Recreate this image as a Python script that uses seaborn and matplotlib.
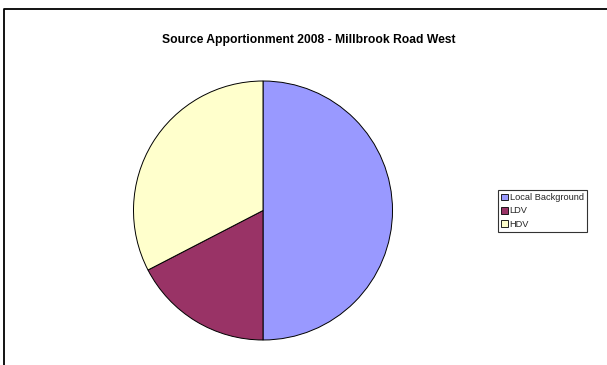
import matplotlib
matplotlib.use("Agg")
import matplotlib.pyplot as plt
from matplotlib.patches import Patch
from matplotlib.lines import Line2D
import seaborn as sns

categories = ["Local Background", "LDV", "HDV"]
values = [50.0, 17.4, 32.6]
colors = ["#9999FF", "#993366", "#FFFFCC"]
title = "Source Apportionment 2008 - Millbrook Road West"

sns.set_style("white")
plt.rcParams["font.family"] = ["Liberation Sans", "DejaVu Sans"]

W, H = 607, 365
fig = plt.figure(figsize=(W / 100, H / 100), dpi=100)
fig.patch.set_facecolor("white")

cx, cy, r = 263, 210.5, 129.5
ax = fig.add_axes([(cx - r) / W, (H - cy - r) / H, 2 * r / W, 2 * r / H])
ax.pie(values, colors=colors, startangle=90, counterclock=False,
       radius=1.0, wedgeprops=dict(edgecolor="black", linewidth=0.7))
ax.set_xlim(-1.0, 1.0)
ax.set_ylim(-1.0, 1.0)
ax.set_aspect("auto")
ax.axis("off")

fig.text(308.5 / W, 1 - 40 / H, title, ha="center", va="center",
         fontsize=8.7, fontweight="bold", color="black")

handles = [Patch(facecolor=c, edgecolor="black", linewidth=0.6) for c in colors]
leg = fig.legend(handles, categories, loc="upper left",
                 bbox_to_anchor=(497.5 / W, 1 - 190 / H),
                 fontsize=6.65, frameon=True, fancybox=False,
                 handlelength=0.75, handleheight=0.75, handletextpad=0.2,
                 borderpad=0.35, labelspacing=0.45, borderaxespad=0.0)
leg.get_frame().set_edgecolor("black")
leg.get_frame().set_linewidth(0.8)

# chart area frame (left and top edges visible)
fig.add_artist(Line2D([3.5 / W, 3.5 / W, 1.0], [0.0, 1 - 8.5 / H, 1 - 8.5 / H],
                      transform=fig.transFigure, color="black", linewidth=1.3))

fig.savefig("out.png", dpi=100, facecolor="white")
